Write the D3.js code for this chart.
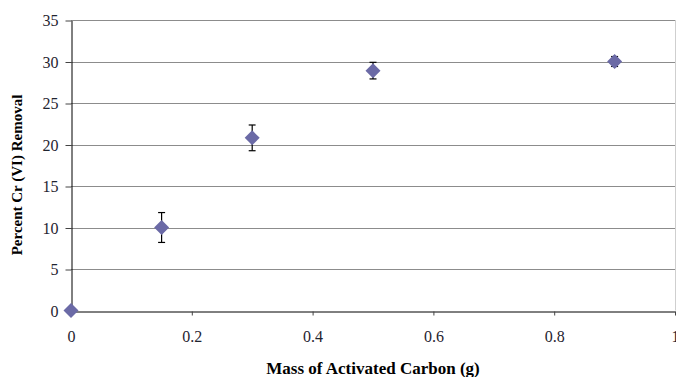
<!DOCTYPE html>
<html>
<head>
<meta charset="utf-8">
<script src="https://d3js.org/d3.v7.min.js"></script>
<style>
body { margin: 0; background: #fff; }
text { font-family: "Liberation Serif", "Times New Roman", serif; }
</style>
</head>
<body>
<script>
// values
let mass = [0, 0.15, 0.3, 0.5, 0.9];
let removal = [0, 10, 20.8, 28.9, 30];
let errorBar = [0, 1.8, 1.55, 1.0, 0.6];
let xTicks = [0, 0.2, 0.4, 0.6, 0.8, 1];
let yTicks = [0, 5, 10, 15, 20, 25, 30, 35];

let width = 676, height = 377;
let svg = d3.select("body").append("svg")
   .attr("width", width).attr("height", height);

let x = d3.scaleLinear().domain([0, 1]).range([71, 675]);
let y = d3.scaleLinear().domain([0, 35]).range([310.5, 20]);

// gridlines
svg.append("g").selectAll("line")
   .data(yTicks.filter(function (d) { return d > 0; }))
   .enter().append("line")
   .attr("x1", x(0)).attr("x2", x(1))
   .attr("y1", function (d) { return Math.round(y(d)) + 0.5; })
   .attr("y2", function (d) { return Math.round(y(d)) + 0.5; })
   .attr("stroke", "#8c8c8c").attr("stroke-width", 1);

// right border
svg.append("line")
   .attr("x1", x(1) + 0.5).attr("x2", x(1) + 0.5)
   .attr("y1", y(35)).attr("y2", y(0))
   .attr("stroke", "#cfcfcf");

// y axis
let yAxis = svg.append("g")
   .attr("transform", "translate(" + (x(0) + 0.5) + ",0.5)")
   .call(d3.axisLeft(y).tickValues(yTicks).tickSize(6).tickSizeOuter(0).tickPadding(7));

// x axis
let xAxis = svg.append("g")
   .attr("transform", "translate(0," + (Math.round(y(0)) + 0.5) + ")")
   .call(d3.axisBottom(x).tickValues(xTicks).tickSize(4).tickSizeOuter(0).tickPadding(15)
      .tickFormat(function (d) { return d3.format("")(d); }));

svg.selectAll(".domain").attr("stroke", "#000");
svg.selectAll(".tick line").attr("stroke", "#444");
svg.selectAll(".tick text")
   .style("font-family", "'Liberation Serif', serif")
   .style("font-size", "16px")
   .attr("fill", "#1f2430");
xAxis.selectAll(".tick").filter(function (d) { return d === 0; }).select("line").remove();

// error bars
let points = mass.map(function (m, i) {
   return { m: m, v: removal[i], e: errorBar[i] };
});

let bars = svg.append("g").selectAll("g")
   .data(points.filter(function (d) { return d.e > 0; }))
   .enter().append("g")
   .attr("stroke", "#000").attr("stroke-width", 1.2);

bars.append("line")
   .attr("x1", function (d) { return x(d.m); })
   .attr("x2", function (d) { return x(d.m); })
   .attr("y1", function (d) { return y(d.v + d.e); })
   .attr("y2", function (d) { return y(d.v - d.e); });
bars.append("line")
   .attr("x1", function (d) { return x(d.m) - 3.5; })
   .attr("x2", function (d) { return x(d.m) + 3.5; })
   .attr("y1", function (d) { return y(d.v + d.e); })
   .attr("y2", function (d) { return y(d.v + d.e); });
bars.append("line")
   .attr("x1", function (d) { return x(d.m) - 3.5; })
   .attr("x2", function (d) { return x(d.m) + 3.5; })
   .attr("y1", function (d) { return y(d.v - d.e); })
   .attr("y2", function (d) { return y(d.v - d.e); });

// diamond markers
svg.append("g").selectAll("path")
   .data(points)
   .enter().append("path")
   .attr("transform", function (d) { return "translate(" + x(d.m) + "," + y(d.v) + ")"; })
   .attr("d", "M0,-7.5L7.5,0L0,7.5L-7.5,0Z")
   .attr("fill", "#6b6aa6");

// axis titles
svg.append("text")
   .attr("transform", "translate(22,175) rotate(-90)")
   .attr("text-anchor", "middle")
   .style("font-weight", "bold").style("font-size", "15px")
   .text("Percent Cr (VI) Removal");

svg.append("text")
   .attr("x", 373).attr("y", 374)
   .attr("text-anchor", "middle")
   .style("font-weight", "bold").style("font-size", "17px")
   .text("Mass of Activated Carbon (g)");
</script>
</body>
</html>
